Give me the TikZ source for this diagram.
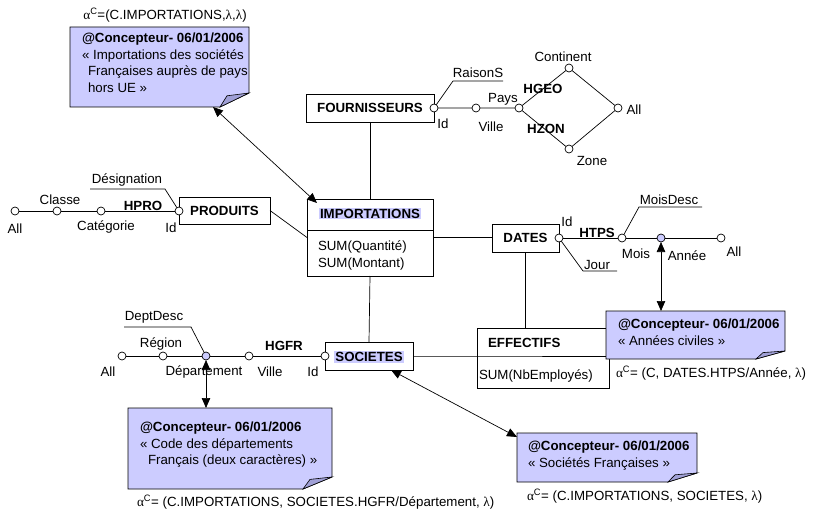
\documentclass[tikz,border=0pt]{standalone}
\usepackage{fontspec}
\setmainfont{Liberation Sans}
\newfontfamily\grkfont{Liberation Serif}
\usepackage{tikz}
\usetikzlibrary{arrows.meta}

\definecolor{notefill}{RGB}{204,204,255}
\definecolor{foldfill}{RGB}{160,160,214}
\newcommand\dfont{\fontsize{13.3}{16.5}\selectfont}
\newcommand\galpha{{\grkfont α}}
\newcommand\glambda{{\grkfont λ}}
% folded note outline, drawn from the anchors of an empty node
\newcommand\foldnote[2]{%
  \filldraw[fill=notefill, line width=0.8pt] (#1.north west) -- (#1.north east)
    -- ([yshift=#2pt]#1.south east) -- ([xshift=-29pt]#1.south east)
    -- (#1.south west) -- cycle;
  \filldraw[fill=foldfill, line width=0.6pt] ([xshift=-29pt]#1.south east)
    -- ([xshift=-22pt,yshift={0.8*#2}]#1.south east) -- ([yshift=#2pt]#1.south east) -- cycle;}

\begin{document}
\begin{tikzpicture}
[
x=1pt, y=-1pt,
line width=0.7pt,
every node/.style={inner sep=0pt, outer sep=0pt, font=\dfont},
ent/.style={draw, line width=0.8pt, font=\dfont\bfseries},
lvl/.style={circle, draw, fill=white, line width=0.7pt, minimum size=8pt},
lvlf/.style={lvl, fill=notefill},
hier/.style={font=\dfont\bfseries},
note/.style={rectangle},
arr/.style={{Triangle[length=10pt,width=8.5pt]}-{Triangle[length=10pt,width=8.5pt]}}
]
\useasboundingbox (0,0) rectangle (813,513);

% FOURNISSEURS
\node[ent, minimum width=128pt, minimum height=28pt] (four) at (370,108) {FOURNISSEURS};
\node[lvl] (fId) at (434,108) {};
\node[lvl] (fVille) at (476,108) {};
\node[lvl] (fPays) at (519,108) {};
\node[lvl] (fCont) at (569,68) {};
\node[lvl] (fAll) at (618,108) {};
\node[lvl] (fZone) at (569,149) {};
\coordinate (fRs1) at (453,81);
\coordinate (fRs2) at (503,81);
\draw (fId) -- (fRs1) -- (fRs2);
\draw (fId) -- (fVille) -- (fPays) -- (fCont) -- (fAll) -- (fZone) -- (fPays);
\node at (443,124) {Id};
\node at (478,73) {RaisonS};
\node at (491,127) {Ville};
\node at (503,99) {Pays};
\node at (563,57) {Continent};
\node at (634,110) {All};
\node at (592,161) {Zone};
\node[hier] at (543,89) {HGEO};
\node[hier] at (546,129) {HZON};

% PRODUITS
\node[ent, minimum width=91pt, minimum height=27pt] (prod) at (224.5,210.5) {PRODUITS};
\node[lvl] (pId) at (179,211) {};
\node[lvl] (pCat) at (101,211) {};
\node[lvl] (pCla) at (57,211) {};
\node[lvl] (pAll) at (15,211) {};
\coordinate (pDes1) at (165,189);
\coordinate (pDes2) at (90,189);
\draw (pId) -- (pDes1) -- (pDes2);
\draw (pAll) -- (pCla) -- (pCat) -- (pId);
\node at (171,228) {Id};
\node at (127,180) {Désignation};
\node at (106,227) {Catégorie};
\node at (60,200) {Classe};
\node at (15,229) {All};
\node[hier] at (143,206) {HPRO};

% IMPORTATIONS
\node[ent, minimum width=126pt, minimum height=77pt] (imp) at (370,237.5) {};
\node[hier, fill=notefill, inner sep=1pt] (impT) at (370,213.5) {IMPORTATIONS};
\draw[line width=0.8pt] ([yshift=-31pt]imp.north west) -- ([yshift=-31pt]imp.north east);
\node[anchor=west, align=left] at (318,255.5) {SUM(Quantité)\\SUM(Montant)};
\draw (four.south) -- (imp.north);
\draw (prod.east) -- (imp.west);

% DATES
\node[ent, minimum width=67pt, minimum height=28pt] (dates) at (525.5,238) {DATES};
\node[lvl] (dId) at (559,238) {};
\node[lvl] (dMois) at (622,238) {};
\node[lvlf] (dAnn) at (661,238) {};
\node[lvl] (dAll) at (721,238) {};
\coordinate (dJour1) at (583,271);
\coordinate (dJour2) at (617,271);
\coordinate (dMd1) at (639,207);
\coordinate (dMd2) at (702,207);
\draw (dId) -- (dJour1) -- (dJour2);
\draw (dMois) -- (dMd1) -- (dMd2);
\draw (dId) -- (dMois) -- (dAnn) -- (dAll);
\node at (567,222) {Id};
\node[hier] at (597,233) {HTPS};
\node at (597,265) {Jour};
\node at (636,254) {Mois};
\node at (669,200) {MoisDesc};
\node at (687,256) {Année};
\node at (734,252) {All};
\draw (imp.east) -- (imp.east -| dates.west);

% EFFECTIFS
\node[draw, line width=0.8pt, minimum width=132pt, minimum height=60pt] (eff) at (543,358) {};
\node[hier, anchor=west] at (488,343) {EFFECTIFS};
\node[anchor=west] at (479,376) {SUM(NbEmployés)};
\draw (dates.south) -- (dates.south |- eff.north);

% SOCIETES
\node[ent, minimum width=88pt, minimum height=28pt] (soc) at (369,356) {};
\node[hier, fill=notefill, inner sep=1pt] (socT) at (369,357) {SOCIETES};
\node[lvl] (sId) at (325,356) {};
\node[lvl] (sVille) at (249,356) {};
\node[lvlf] (sDep) at (206,356) {};
\node[lvl] (sReg) at (163,356) {};
\node[lvl] (sAll) at (122,356) {};
\coordinate (sDd1) at (191,327);
\coordinate (sDd2) at (124,327);
\draw (sDep) -- (sDd1) -- (sDd2);
\draw (sAll) -- (sReg) -- (sDep) -- (sVille) -- (sId);
\node at (313,372) {Id};
\node at (270,372) {Ville};
\node[hier] at (284,346) {HGFR};
\node at (204,372) {Département};
\node at (154,317) {DeptDesc};
\node at (161,344) {Région};
\node at (108,372) {All};
\draw (imp.south) -- (soc.north);
\draw (soc.east) -- (soc.east -| eff.west) -- (soc.east -| eff.east);

% notes
\node[note, minimum width=179pt, minimum height=80pt] (n1) at (159.5,67) {};
\foldnote{n1}{14}
\node[anchor=north west, align=left] at (82,33) {\textbf{@Concepteur- 06/01/2006}\\« Importations des sociétés\\\hspace*{6pt}Françaises auprès de pays\\\hspace*{6pt}hors UE »};
\node (a1) at (165,15) {\galpha\textsuperscript{C}=(C.IMPORTATIONS,\glambda,\glambda)};

\node[note, minimum width=179pt, minimum height=48pt] (n2) at (695.5,335) {};
\foldnote{n2}{8}
\node[anchor=north west, align=left] at (618,319) {\textbf{@Concepteur- 06/01/2006}\\« Années civiles »};
\node[anchor=west] (a2) at (616,373) {\galpha\textsuperscript{C}= (C, DATES.HTPS/Année, \glambda)};

\node[note, minimum width=204pt, minimum height=81pt] (n3) at (230,448.5) {};
\foldnote{n3}{12}
\node[anchor=north west, align=left] at (140,422) {\textbf{@Concepteur- 06/01/2006}\\« Code des départements\\\hspace*{8pt}Français (deux caractères) »};
\node[anchor=west] (a3) at (137,502) {\galpha\textsuperscript{C}= (C.IMPORTATIONS, SOCIETES.HGFR/Département, \glambda)};

\node[note, minimum width=180pt, minimum height=49pt] (n4) at (607,457.5) {};
\foldnote{n4}{9}
\node[anchor=north west, align=left] at (528,441) {\textbf{@Concepteur- 06/01/2006}\\« Sociétés Françaises »};
\node[anchor=west] (a4) at (527,496) {\galpha\textsuperscript{C}= (C.IMPORTATIONS, SOCIETES, \glambda)};

% arrows
\draw[arr] ([xshift=-36pt]n1.south east) -- ([xshift=10pt,yshift=-4pt]imp.north west);
\draw[arr] (dAnn.south) -- (dAnn.south |- n2.north);
\draw[arr] (sDep.south) -- (sDep.south |- n3.north);
\draw[arr] ([xshift=22pt]soc.south) -- ([yshift=-4pt]n4.north west);
\end{tikzpicture}
\end{document}
